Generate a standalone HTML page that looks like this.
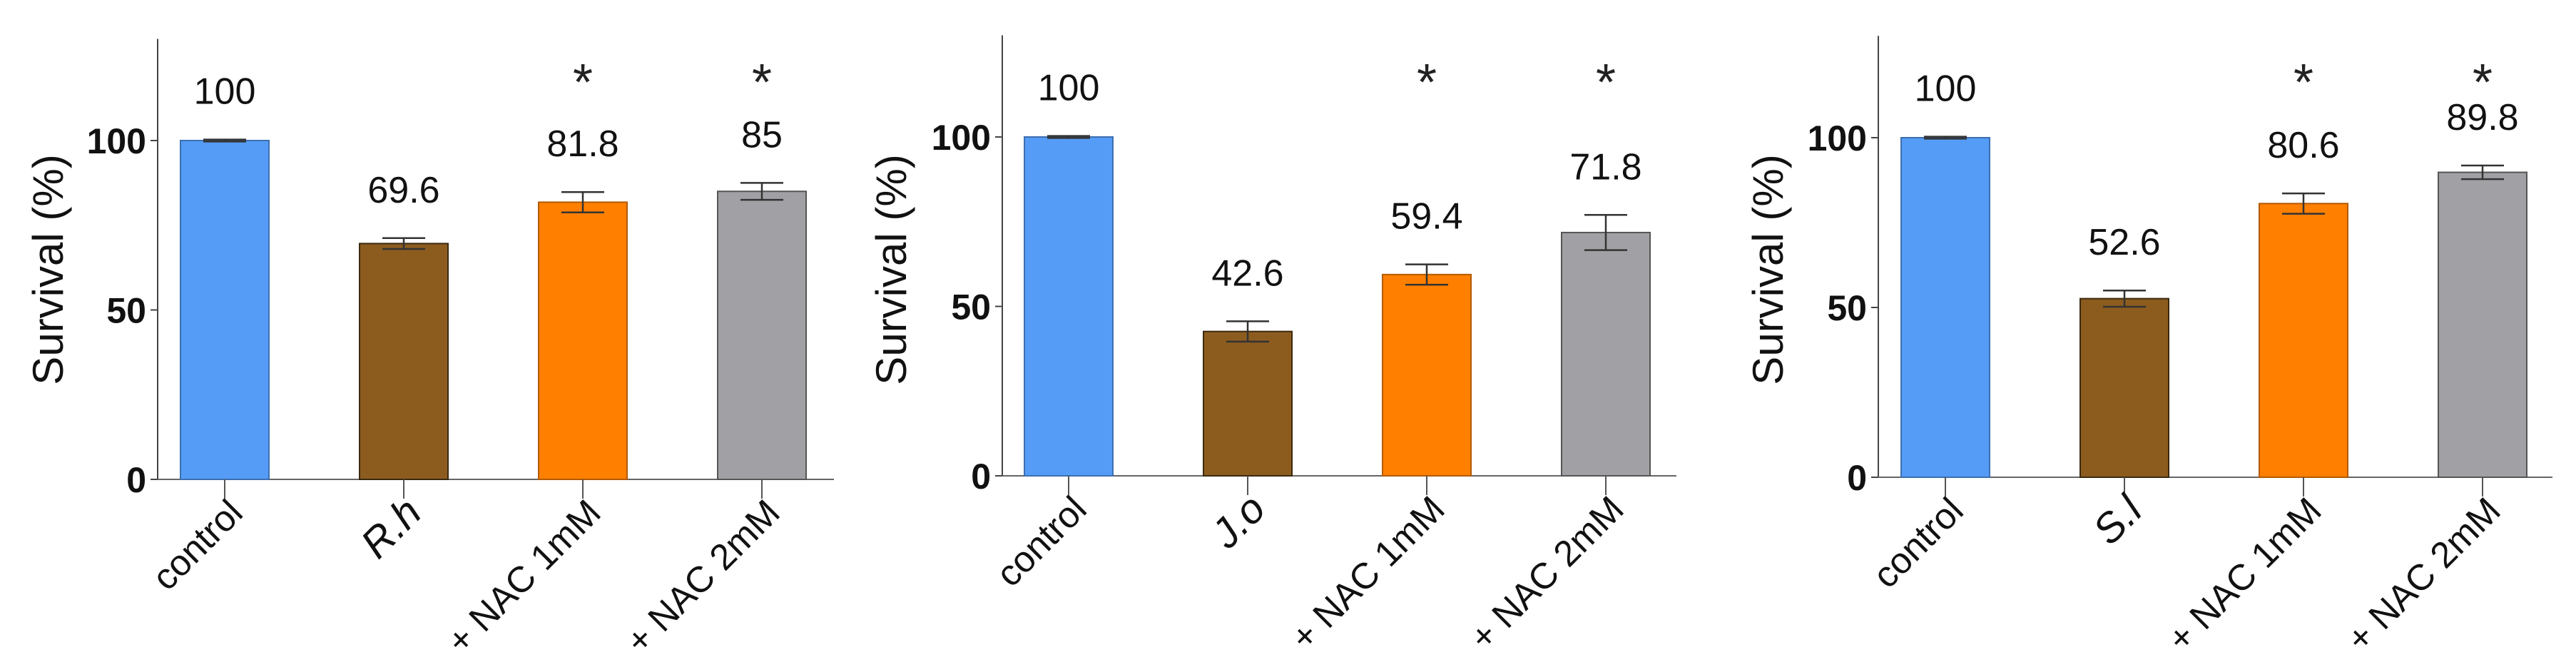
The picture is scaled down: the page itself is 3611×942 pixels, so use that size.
<!DOCTYPE html>
<html><head><meta charset="utf-8"><style>
html,body{margin:0;padding:0;background:#fff;overflow:hidden;}
svg{display:block;font-family:"Liberation Sans",Arial,sans-serif;}
</style></head><body>
<svg id="chart" width="3611" height="942" viewBox="0 0 3611 942" xmlns="http://www.w3.org/2000/svg"></svg>
<script>
const categories1 = ["control", "R.h", "+ NAC 1mM", "+ NAC 2mM"];
const categories2 = ["control", "J.o", "+ NAC 1mM", "+ NAC 2mM"];
const categories3 = ["control", "S.l", "+ NAC 1mM", "+ NAC 2mM"];
const values1 = [100, 69.6, 81.8, 85];
const values2 = [100, 42.6, 59.4, 71.8];
const values3 = [100, 52.6, 80.6, 89.8];
const errors1 = [0.3, 1.6, 3.0, 2.5];
const errors2 = [0.3, 3.0, 3.0, 5.2];
const errors3 = [0.3, 2.4, 3.0, 2.0];
const labels1 = ["100", "69.6", "81.8", "85"];
const labels2 = ["100", "42.6", "59.4", "71.8"];
const labels3 = ["100", "52.6", "80.6", "89.8"];
const stars1 = [false, false, true, true];
const stars2 = [false, false, true, true];
const stars3 = [false, false, true, true];
const yTicks = [0, 50, 100];
const yMax = 130;

const svg = document.getElementById('chart');
const NS = 'http://www.w3.org/2000/svg';
const fills = ['#559cf6', '#8c5c1f', '#ff7f00', '#a1a1a5'];
const strokes = ['#3d6fb0', '#3a2a10', '#b35a00', '#555'];
function mk(tag, attrs, parent, text) {
  const e = document.createElementNS(NS, tag);
  for (const k in attrs) e.setAttribute(k, attrs[k]);
  if (text !== undefined) e.textContent = text;
  (parent || svg).appendChild(e);
  return e;
}
function panel(p, idx, cats, vals, errs, labs, stars) {
  const g = mk('g', {});
  
  
  const y = v => p.y0 - (p.y0 - p.y100) * v / 100;
  const x = i => p.x0 + p.first + i * p.step;
  const ya = mk('line', {x1: p.x0, x2: p.x0, y1: y(yMax), y2: p.y0, stroke: '#444', 'stroke-width': 2}, g);
  
  
  const xa = mk('line', {x1: p.x0, x2: p.xEnd, y1: p.y0, y2: p.y0, stroke: '#666', 'stroke-width': 2}, g);
  
  
  yTicks.forEach(t => {
    mk('line', {x1: p.x0 - 10, x2: p.x0, y1: y(t), y2: y(t), stroke: '#444', 'stroke-width': 2}, g);
    const tl = mk('text', {x: p.x0 - 16, y: y(t) + 18, 'text-anchor': 'end', 'font-size': 50, 'font-weight': 'bold', fill: '#111'}, g, String(t));
    
    
  });
  const tt = mk('text', {x: 0, y: 0, 'text-anchor': 'middle', 'font-size': 60, fill: '#111', transform: 'translate(' + (p.titleX) + ',378) rotate(-90)'}, g, 'Survival (%)');
  
  
  cats.forEach((c, i) => {
    const cx = x(i), w = 124;
    const b = mk('rect', {x: cx - w / 2, y: y(vals[i]), width: w, height: p.y0 - y(vals[i]), fill: fills[i], stroke: strokes[i], 'stroke-width': 2}, g);
    
    
    const et = y(vals[i] + errs[i]), eb = y(vals[i] - errs[i]);
    const eg = mk('g', {stroke: '#333', 'stroke-width': 2.5}, g);
    
    
    mk('line', {x1: cx, x2: cx, y1: et, y2: eb}, eg);
    mk('line', {x1: cx - 30, x2: cx + 30, y1: et, y2: et}, eg);
    mk('line', {x1: cx - 30, x2: cx + 30, y1: eb, y2: eb}, eg);
    mk('line', {x1: cx, x2: cx, y1: p.y0, y2: p.y0 + 27, stroke: '#555', 'stroke-width': 2}, g);
    const vl = mk('text', {x: cx, y: et - 50, 'text-anchor': 'middle', 'font-size': 52, fill: '#111'}, g, labs[i]);
    
    
    if (stars[i]) {
      const s = mk('text', {x: cx, y: 140, 'text-anchor': 'middle', 'font-size': 72, fill: '#222'}, g, '*');
      
      
    }
    const italic = i === 1;
    const cl = mk('text', {x: 0, y: 0, 'text-anchor': 'end', 'font-size': italic ? 58 : 51, 'font-style': italic ? 'italic' : 'normal', fill: '#111', transform: 'translate(' + (cx + 28) + ',' + (p.y0 + 50) + ') rotate(-45)'}, g, c);
    
    
  });
}
panel({x0: 221, xEnd: 1169, y0: 672, y100: 197, first: 94, step: 251, titleX: 88}, 1, categories1, values1, errors1, labels1, stars1);
panel({x0: 1405, xEnd: 2350, y0: 667, y100: 192, first: 93, step: 251, titleX: 1270}, 2, categories2, values2, errors2, labels2, stars2);
panel({x0: 2633, xEnd: 3578, y0: 669, y100: 193, first: 94, step: 251, titleX: 2499}, 3, categories3, values3, errors3, labels3, stars3);
</script>
</body></html>
